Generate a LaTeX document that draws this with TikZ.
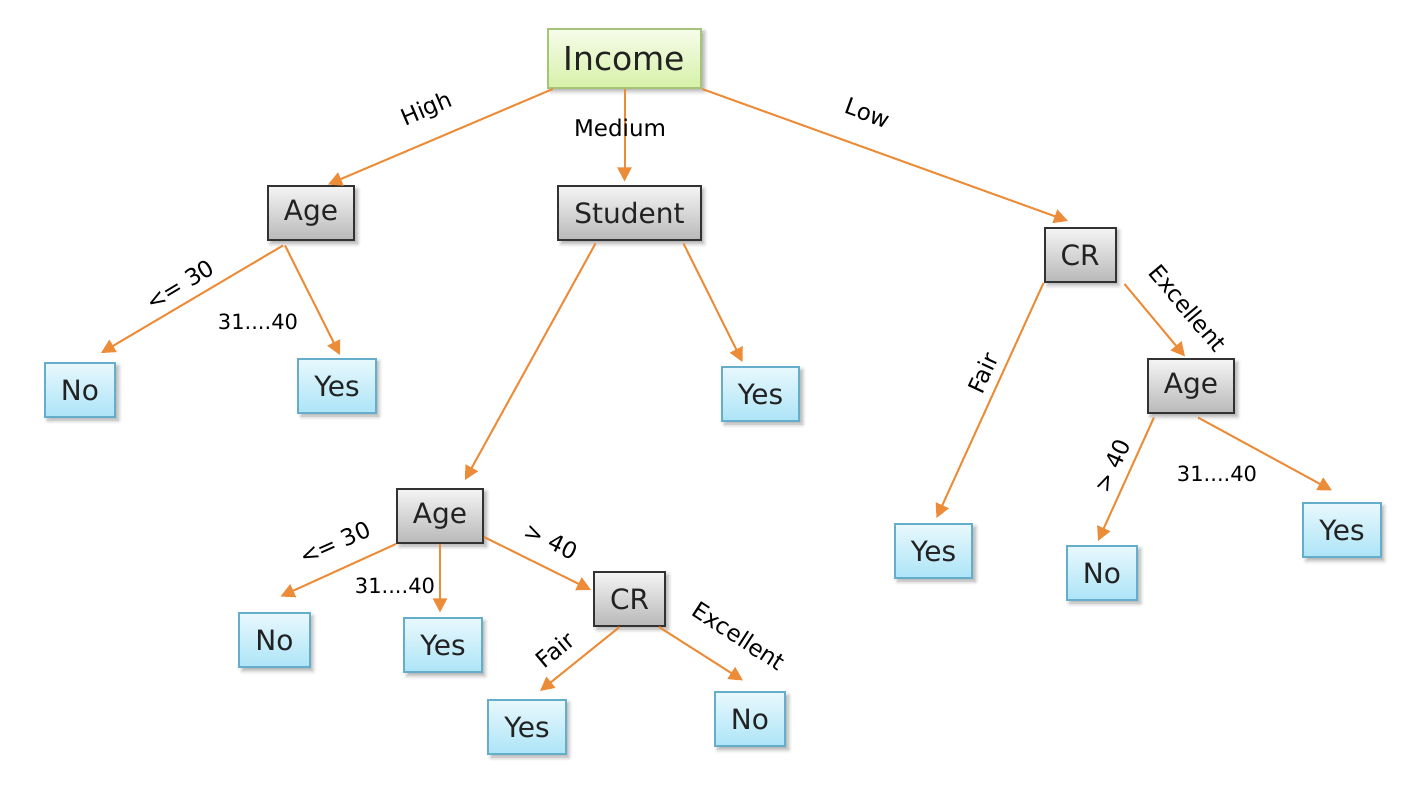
\documentclass[tikz,border=0pt]{standalone}
\usepackage{fontspec}
\setmainfont{DejaVu Sans}
\usepackage{tikz}
\usetikzlibrary{arrows.meta}
\usetikzlibrary{shadows.blur}

\definecolor{edgeorange}{RGB}{237,140,56}
\definecolor{txtgray}{RGB}{34,34,34}
\definecolor{graytop}{RGB}{244,244,244}
\definecolor{graybot}{RGB}{184,184,184}
\definecolor{grayline}{RGB}{50,50,50}
\definecolor{bluetop}{RGB}{232,248,253}
\definecolor{bluebot}{RGB}{172,228,247}
\definecolor{blueline}{RGB}{100,174,204}
\definecolor{greentop}{RGB}{246,252,234}
\definecolor{greenbot}{RGB}{214,241,168}
\definecolor{greenline}{RGB}{164,196,120}

\tikzset{
  box/.style={draw, line width=1pt, inner xsep=8pt, minimum height=27pt,
    text=txtgray, font=\fontsize{14}{16}\selectfont,
    blur shadow={shadow xshift=1.5pt, shadow yshift=-1.5pt,
      shadow blur radius=2pt, shadow opacity=35}},
  rootbox/.style={box, draw=greenline, top color=greentop, bottom color=greenbot,
    minimum height=29.5pt, font=\fontsize{16.5}{19}\selectfont},
  attrbox/.style={box, draw=grayline, top color=graytop, bottom color=graybot},
  leafbox/.style={box, draw=blueline, top color=bluetop, bottom color=bluebot},
  edge/.style={draw=edgeorange, line width=1pt, -{Triangle[length=7pt,width=7pt]}},
  lbl/.style={text=black, inner sep=0pt, font=\fontsize{11.5}{13}\selectfont},
  rng/.style={lbl, font=\fontsize{10.5}{12}\selectfont},
}

\begin{document}
\begin{tikzpicture}[x=0.5pt,y=-0.5pt]
  \useasboundingbox (0,0) rectangle (1420,790);

  % nodes
  \node[rootbox] (income) at (624.5,58.5) {Income};
  \node[attrbox] (ageHigh) at (311,213.5) {Age};
  \node[attrbox] (student) at (629.5,213.5) {Student};
  \node[attrbox] (crLow) at (1080,255) {CR};
  \node[leafbox] (noHigh) at (80,390) {No};
  \node[leafbox] (yesHigh) at (337,386) {Yes};
  \node[leafbox] (yesStudent) at (760.5,394) {Yes};
  \node[attrbox] (ageLow) at (1191,386.5) {Age};
  \node[attrbox] (ageStudent) at (440,516) {Age};
  \node[leafbox] (yesLowFair) at (933.5,551) {Yes};
  \node[leafbox] (noLow) at (1102,573) {No};
  \node[leafbox] (yesLow) at (1342,530.5) {Yes};
  \node[leafbox] (noAge) at (274.5,640.5) {No};
  \node[leafbox] (yesAge) at (443,645.5) {Yes};
  \node[attrbox] (crAge) at (629.5,599) {CR};
  \node[leafbox] (yesFair) at (527,727) {Yes};
  \node[leafbox] (noExc) at (750,719.5) {No};

  % connectors
  \draw[edge] ([xshift=3pt]income.south west) -- ([xshift=8.5pt,yshift=0.5pt]ageHigh.north);
  \draw[edge] (income.south) -- ([yshift=2pt]income.south |- student.north);
  \draw[edge] (income.south east) -- ([xshift=-6pt,yshift=3pt]crLow.north);
  \draw[edge] ([xshift=-14pt,yshift=-2pt]ageHigh.south) -- ([xshift=10.5pt,yshift=4.5pt]noHigh.north);
  \draw[edge] ([xshift=-13pt,yshift=-2pt]ageHigh.south) -- ([xshift=1.5pt,yshift=1.5pt]yesHigh.north);
  \draw[edge] ([xshift=-17pt,yshift=-1pt]student.south) -- ([xshift=12.5pt,yshift=4pt]ageStudent.north);
  \draw[edge] ([xshift=27pt,yshift=-1pt]student.south) -- ([xshift=-9pt,yshift=2pt]yesStudent.north);
  \draw[edge] (crLow.south west) -- ([xshift=1.5pt,yshift=2.5pt]yesLowFair.north);
  \draw[edge] ([xshift=4pt,yshift=-0.5pt]crLow.south east) -- ([xshift=-3pt,yshift=1pt]ageLow.north);
  \draw[edge] ([xshift=3.5pt,yshift=-1.5pt]ageLow.south west) -- ([xshift=-2pt,yshift=2pt]noLow.north);
  \draw[edge] ([xshift=3.5pt,yshift=-1.5pt]ageLow.south) -- ([xshift=-5pt,yshift=6pt]yesLow.north);
  \draw[edge] (ageStudent.south west) -- ([xshift=3pt,yshift=8pt]noAge.north);
  \draw[edge] (ageStudent.south) -- ([yshift=2.5pt]ageStudent.south |- yesAge.north);
  \draw[edge] ([yshift=-10.5pt]ageStudent.east) -- ([xshift=-1pt,yshift=4.5pt]crAge.west);
  \draw[edge] ([xshift=-5pt]crAge.south) -- ([xshift=6.5pt,yshift=4pt]yesFair.north);
  \draw[edge] ([xshift=-3.5pt]crAge.south east) -- ([xshift=-3.5pt,yshift=5.5pt]noExc.north);

  % branch labels
  \node[lbl, rotate=23] (lHigh) at (427,110) {High};
  \node[lbl] (lMedium) at (620,128) {Medium};
  \node[lbl, rotate=-20] (lLow) at (868,113) {Low};
  \node[lbl, rotate=31] (lYoungH) at (180,285) {<= 30};
  \node[rng] (lMidH) at (258,322) {31....40};
  \node[lbl, rotate=65] (lFairL) at (983,373) {Fair};
  \node[lbl, rotate=-50] (lExcL) at (1188,308) {Excellent};
  \node[lbl, rotate=66] (lOldL) at (1112,466) {> 40};
  \node[rng] (lMidL) at (1217,474) {31....40};
  \node[lbl, rotate=24] (lYoungS) at (335,543) {<= 30};
  \node[rng] (lMidS) at (395,586) {31....40};
  \node[lbl, rotate=-26] (lOldS) at (551,541) {> 40};
  \node[lbl, rotate=40] (lFairS) at (555,650) {Fair};
  \node[lbl, rotate=-33] (lExcS) at (739,636) {Excellent};
\end{tikzpicture}
\end{document}
